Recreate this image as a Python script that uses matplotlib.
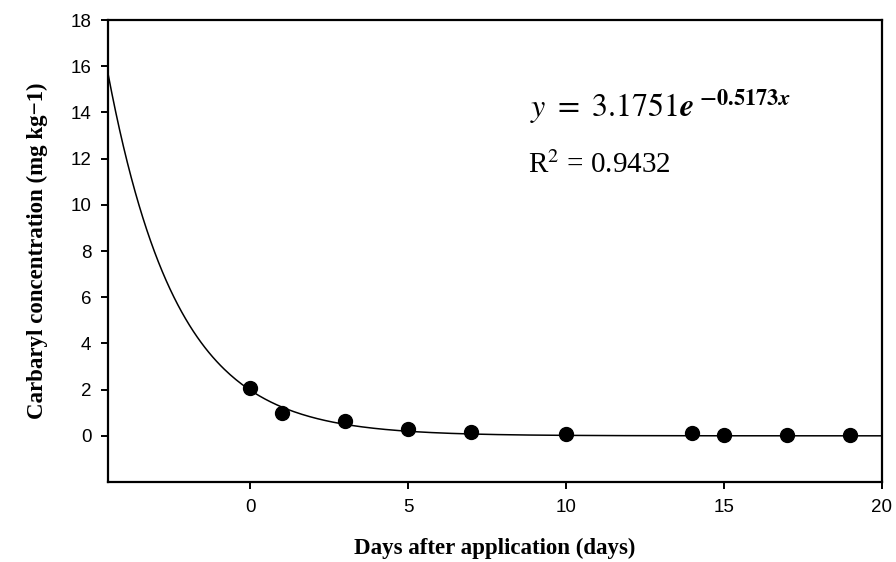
import numpy as np
import matplotlib
matplotlib.use('Agg')
import matplotlib.pyplot as plt

plt.rcParams['mathtext.fontset'] = 'stix'

days = [0, 1, 3, 5, 7, 10, 14, 15, 17, 19]
conc = [2.07, 0.99, 0.65, 0.30, 0.16, 0.09, 0.13, 0.05, 0.05, 0.04]

# fitted curve parameters as drawn in the figure
fit_a = 1.98
fit_k = 0.46

xticks = [0, 5, 10, 15, 20]
yticks = [0, 2, 4, 6, 8, 10, 12, 14, 16, 18]

fig = plt.figure(figsize=(8.96, 5.62), dpi=100)
ax = fig.add_axes([0.1205, 0.1423, 0.8635, 0.8221])

xs = np.linspace(-4.5, 20, 400)
ax.plot(xs, fit_a * np.exp(-fit_k * xs), color='black', linewidth=1.1, zorder=2)
ax.plot(days, conc, 'o', color='black', markersize=10, zorder=3)

ax.set_xlim(-4.5, 20)
ax.set_ylim(-2, 18)
ax.set_xticks(xticks)
ax.set_yticks(yticks)
for lab in ax.get_xticklabels() + ax.get_yticklabels():
    lab.set_fontfamily('Liberation Sans')
    lab.set_fontsize(13.5)
ax.tick_params(direction='out', length=5, width=1.4, pad=7)
for sp in ax.spines.values():
    sp.set_linewidth(1.6)

ax.set_xlabel('Days after application (days)', fontfamily='Liberation Serif',
              fontweight='bold', fontsize=16.5, labelpad=16)
ax.set_ylabel('Carbaryl concentration (mg kg\u22121)', fontfamily='Liberation Serif',
              fontweight='bold', fontsize=16.5, labelpad=16)

ax.text(0.545, 0.812, r'$y\ =\ 3.1751\mathbfit{e}^{\ \mathbf{-0.5173}\mathbfit{x}}$',
        transform=ax.transAxes, fontsize=23, ha='left', va='center')
ax.text(0.543, 0.686, r'R$^2$ = 0.9432', transform=ax.transAxes,
        fontfamily='Liberation Serif', fontsize=21, ha='left', va='center')

plt.savefig('out.png', dpi=100)
plt.close(fig)
